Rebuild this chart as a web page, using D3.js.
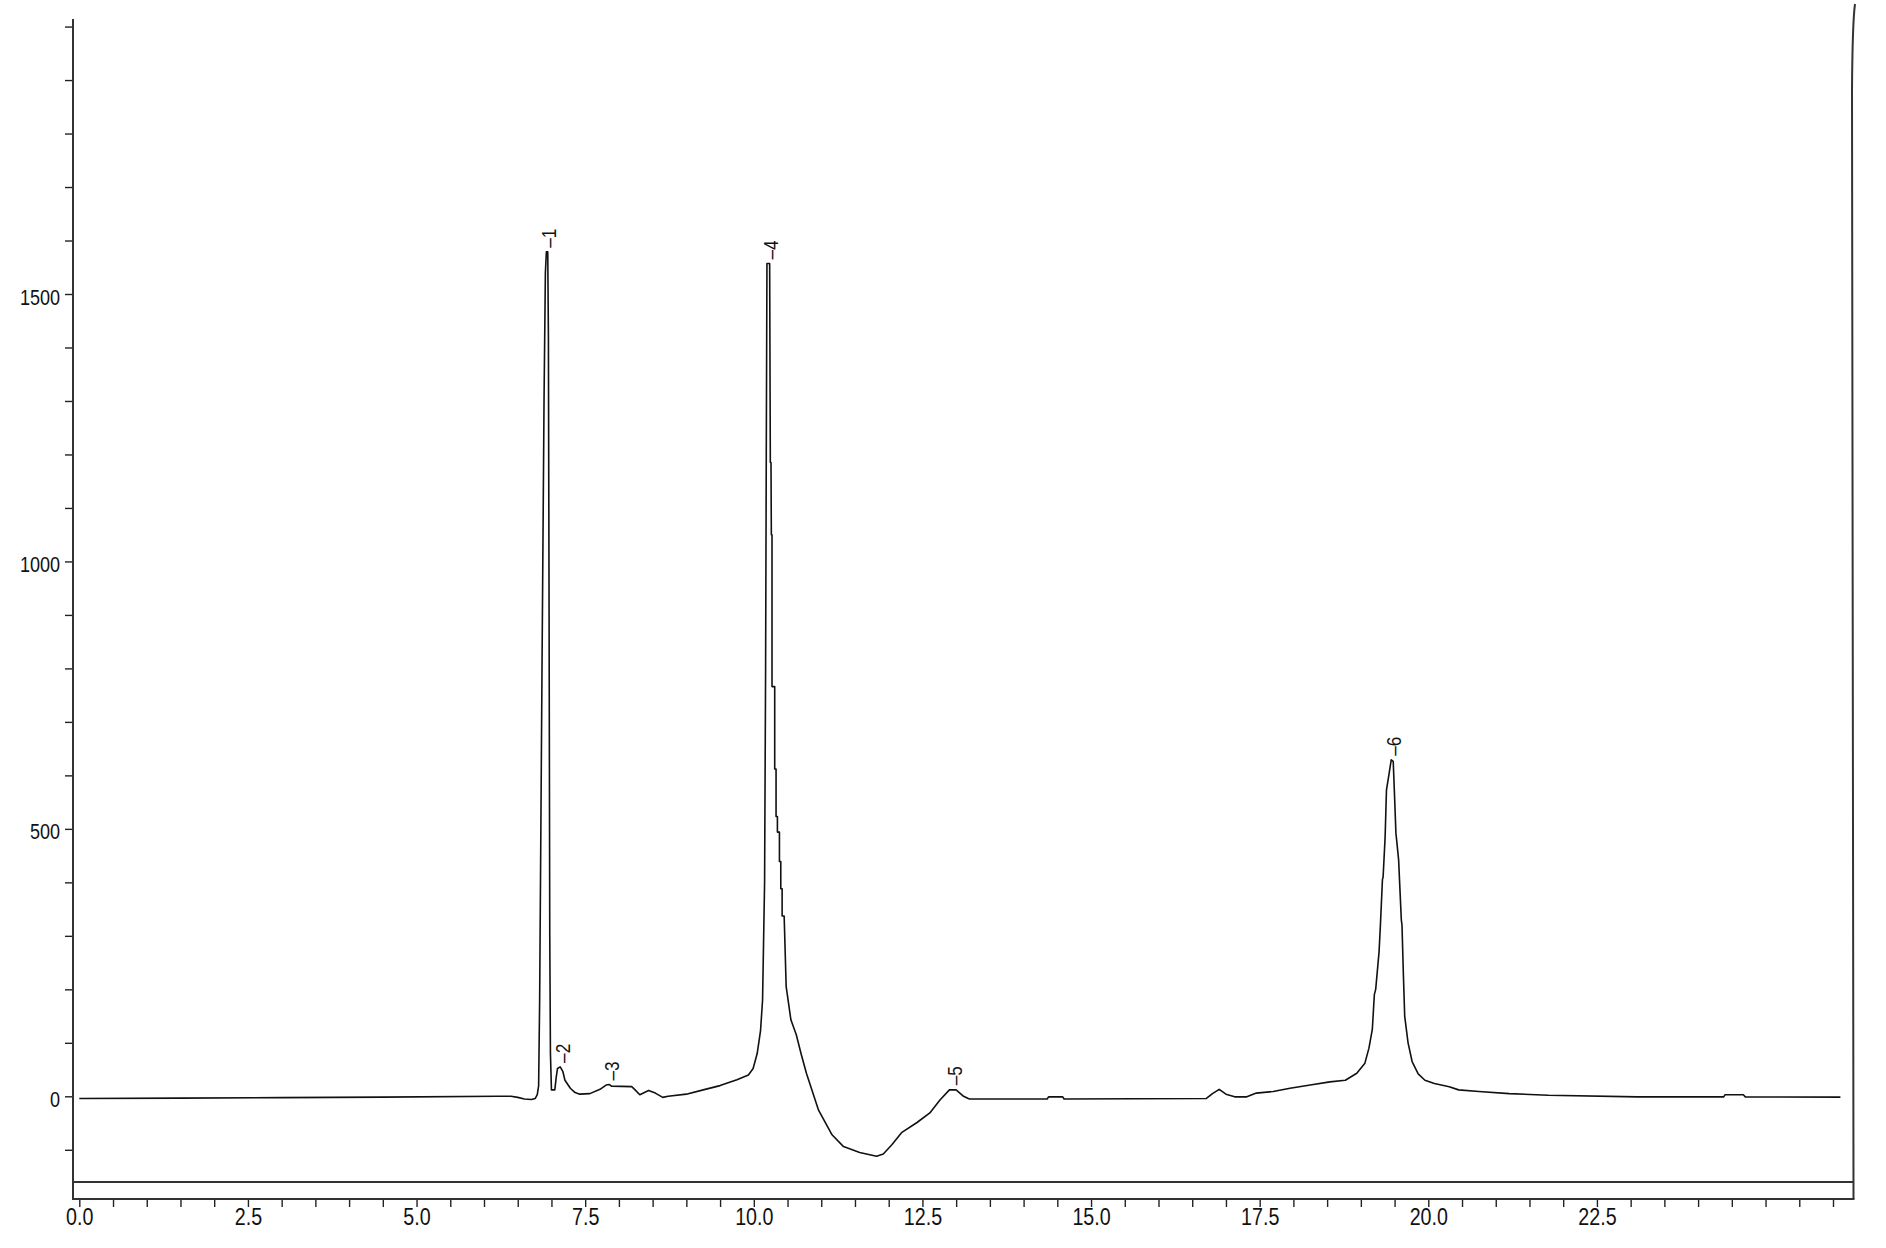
<!DOCTYPE html>
<html>
<head>
<meta charset="utf-8">
<script src="https://cdn.jsdelivr.net/npm/d3@7"></script>
<style>
  body { margin: 0; background: #fff; }
  svg { display: block; font-family: "Liberation Sans", Arial, sans-serif; }
</style>
</head>
<body>
<script>
// chromatogram, time in minutes vs signal
const times = [
	0.00, 1.5, 3.0, 4.5, 6.20, 6.40, 6.50, 6.60, 6.70, 6.76, 6.79, 6.81, 6.825, 6.86, 6.89, 6.91, 6.925, 6.945,
	6.955, 6.965, 6.975, 6.985, 7.00, 7.05, 7.07, 7.09, 7.13, 7.17, 7.20, 7.28, 7.35, 7.42, 7.57, 7.72, 7.81,
	7.86, 7.89, 8.19, 8.24, 8.31, 8.44, 8.54, 8.65, 8.73, 9.00, 9.25, 9.50, 9.75, 9.92, 9.99, 10.05, 10.10,
	10.13, 10.16, 10.175, 10.185, 10.195, 10.235, 10.245, 10.255, 10.26, 10.27, 10.27, 10.31, 10.31, 10.33,
	10.33, 10.35, 10.35, 10.38, 10.38, 10.40, 10.40, 10.42, 10.42, 10.45, 10.48, 10.55, 10.63, 10.70, 10.78,
	10.96, 11.16, 11.33, 11.57, 11.82, 11.92, 12.05, 12.19, 12.42, 12.61, 12.76, 12.90, 13.00, 13.11, 13.18,
	13.20, 14.35, 14.37, 14.58, 14.60, 16.71, 16.80, 16.90, 17.00, 17.13, 17.31, 17.45, 17.70, 17.95, 18.25,
	18.54, 18.77, 18.94, 19.06, 19.12, 19.17, 19.20, 19.22, 19.27, 19.29, 19.32, 19.33, 19.36, 19.38, 19.42,
	19.45, 19.48, 19.50, 19.52, 19.53, 19.56, 19.58, 19.60, 19.61, 19.63, 19.65, 19.70, 19.76, 19.85, 19.95,
	20.09, 20.31, 20.45, 20.75, 21.20, 21.78, 23.10, 24.38, 24.40, 24.67, 24.70, 26.11
]
const signal = [
	-4, -3.5, -2.5, -1.5, 0, 0, -2, -5, -6, -4, 3, 20, 180, 800, 1300, 1540, 1579, 1579,
	1420, 900, 300, 80, 12, 12, 35, 52, 55, 46, 30, 15, 7, 4, 5, 13, 21,
	22, 19, 18, 12, 3, 11, 6, -2, 0, 4, 12, 20, 31, 40, 52, 80, 123,
	180, 400, 800, 1200, 1557, 1557, 1185, 1185, 1050, 1050, 766, 766, 612, 612,
	523, 523, 494, 494, 439, 439, 388, 388, 337, 337, 205, 143, 115, 80, 43,
	-26, -72, -94, -105, -112, -108, -90, -68, -49, -31, -7, 12, 12, 0, -4,
	-5, -5, -1, -1, -5, -4, 5, 13, 4, -1, -1, 6, 9, 15, 21,
	27, 30, 43, 62, 90, 125, 190, 200, 270, 320, 405, 410, 485, 573, 604,
	629, 626, 560, 492, 480, 442, 386, 330, 320, 230, 150, 100, 65, 42, 30,
	24, 18, 12, 9, 5, 2, -1, -1, 3, 3, -1, -1.5
]

const peakIds = ["1", "2", "3", "4", "5", "6"]
const peakTimes = [6.935, 7.13, 7.86, 10.215, 12.95, 19.46]
const peakHeights = [1579, 55, 22, 1557, 13, 629]

const xTicks = d3.range(0, 26.01, 0.5)
const xLabels = [0, 2.5, 5, 7.5, 10, 12.5, 15, 17.5, 20, 22.5]
const yTicks = d3.range(-100, 2001, 100)
const yLabels = [0, 500, 1000, 1500]

const W = 1886, H = 1248
const AXIS_X = 73, AXIS_Y = 1199, FRAME_Y = 1182, RIGHT_X = 1853.5, TOP_Y = 19

const svg = d3.select("body").append("svg")
	.attr("width", W)
	.attr("height", H)

const x = d3.scaleLinear()
	.domain([0, 26])
	.range([79.3, 79.3 + 26 * 67.45])

const y = d3.scaleLinear()
	.domain([0, 1500])
	.range([1096.3, 294])

// y axis
const yAxis = d3.axisLeft(y)
	.tickValues(yTicks)
	.tickSize(8)
	.tickFormat(d => yLabels.includes(d) ? d : "")

const yAxisGroup = svg.append("g")
	.attr("transform", `translate(${AXIS_X},0)`)
	.call(yAxis)
yAxisGroup.select(".domain").remove()
yAxisGroup.selectAll(".tick line").attr("stroke", "#222").attr("stroke-width", 1.4)
yAxisGroup.selectAll(".tick text")
	.attr("font-size", 22)
	.attr("fill", "#111")
	.attr("x", -13 / 0.82)
	.attr("y", 3)
	.attr("transform", "scale(0.82,1)")

// x axis
const xAxis = d3.axisBottom(x)
	.tickValues(xTicks)
	.tickSize(8)
	.tickPadding(1)
	.tickFormat(d => xLabels.includes(d) ? d.toFixed(1) : "")

const xAxisGroup = svg.append("g")
	.attr("transform", `translate(0,${AXIS_Y})`)
	.call(xAxis)
xAxisGroup.select(".domain").remove()
xAxisGroup.selectAll(".tick line").attr("stroke", "#222").attr("stroke-width", 1.4)
xAxisGroup.selectAll(".tick text")
	.attr("font-size", 24)
	.attr("fill", "#111")
	.attr("transform", "scale(0.82,1)")

// frame lines
const frame = svg.append("g")
	.attr("fill", "none")
	.attr("stroke", "#333")
	.attr("stroke-width", 2)

frame.append("line")
	.attr("x1", AXIS_X).attr("x2", AXIS_X)
	.attr("y1", TOP_Y).attr("y2", AXIS_Y)
frame.append("line")
	.attr("x1", AXIS_X - 1).attr("x2", RIGHT_X + 1)
	.attr("y1", AXIS_Y).attr("y2", AXIS_Y)
frame.append("line")
	.attr("x1", AXIS_X - 1).attr("x2", RIGHT_X)
	.attr("y1", FRAME_Y).attr("y2", FRAME_Y)
frame.append("path")
	.attr("d", `M${RIGHT_X},${AXIS_Y} L${RIGHT_X - 1.5},90 Q${RIGHT_X - 1},22 ${RIGHT_X + 1.5},4`)

// trace
const points = times.map((t, i) => [t, signal[i]])

const line = d3.line()
	.x(d => x(d[0]))
	.y(d => y(d[1]))

svg.append("path")
	.datum(points)
	.attr("fill", "none")
	.attr("stroke", "#111")
	.attr("stroke-width", 1.6)
	.attr("stroke-linejoin", "round")
	.attr("d", line)

// peak labels
svg.append("g")
	.selectAll("text")
	.data(peakIds)
	.enter()
	.append("text")
	.attr("transform", (d, i) => `translate(${x(peakTimes[i]) + 2},${y(peakHeights[i]) - 4}) rotate(-90) scale(0.82,1)`)
	.attr("dy", "0.35em")
	.attr("font-size", 21)
	.attr("fill", "#111")
	.text(d => "\u2013" + d)
</script>
</body>
</html>
